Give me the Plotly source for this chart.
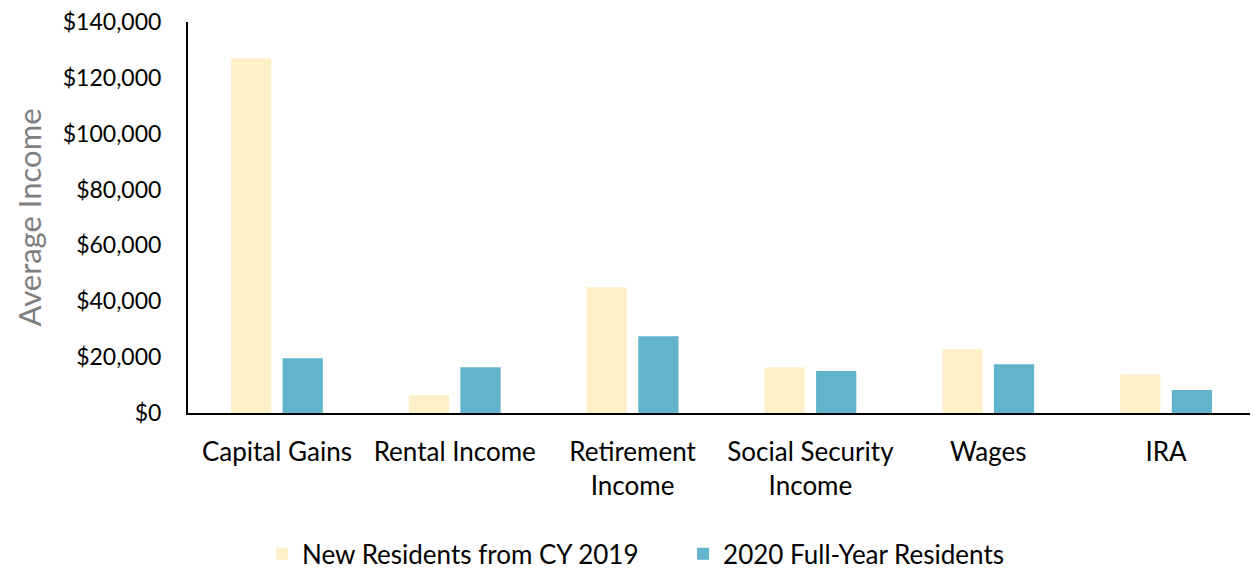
import plotly.graph_objects as go

categories = ["Capital Gains", "Rental Income", "Retirement<br>Income",
              "Social Security<br>Income", "Wages", "IRA"]
new_residents = [127000, 6400, 45000, 16400, 22800, 13900]
full_year = [19600, 16400, 27500, 15000, 17500, 8200]

tick_vals = [0, 20000, 40000, 60000, 80000, 100000, 120000, 140000]
tick_text = ["$0", "$20,000", "$40,000", "$60,000", "$80,000",
             "$100,000", "$120,000", "$140,000"]

font_family = "Lato, 'Open Sans', sans-serif"

fig = go.Figure()

fig.add_trace(go.Bar(
    x=categories,
    y=new_residents,
    name="New Residents from CY 2019",
    marker=dict(color="#FFF0C9", line=dict(width=0)),
))

fig.add_trace(go.Bar(
    x=categories,
    y=full_year,
    name="2020 Full-Year Residents",
    marker=dict(color="#62B3CC", line=dict(width=0)),
))

fig.update_layout(
    width=1258,
    height=571,
    paper_bgcolor="white",
    plot_bgcolor="white",
    barmode="group",
    bargap=0.42,
    bargroupgap=0.22,
    margin=dict(l=180, r=11, t=14, b=166, autoexpand=False),
    font=dict(family=font_family, size=22, color="black"),
    showlegend=True,
    legend=dict(
        orientation="h",
        x=0.0694, xanchor="left",
        y=-0.36, yanchor="middle",
        font=dict(size=26, color="black"),
        entrywidth=376,
        traceorder="normal",
    ),
    xaxis=dict(
        showline=True,
        linecolor="black",
        linewidth=2,
        ticks="",
        showgrid=False,
        tickfont=dict(size=26),
        ticklabelstandoff=15,
        automargin=False,
    ),
    yaxis=dict(
        range=[0, 140000],
        tickvals=tick_vals,
        ticktext=tick_text,
        showline=True,
        linecolor="black",
        linewidth=2,
        showgrid=False,
        zeroline=False,
        ticks="",
        tickfont=dict(size=23),
        ticklabelstandoff=20,
        ticklabeloverflow="allow",
        automargin=False,
        title=dict(text="Average Income", font=dict(size=31, color="#7F7F7F"),
                   standoff=12),
    ),
)

fig.write_html("out.html")
